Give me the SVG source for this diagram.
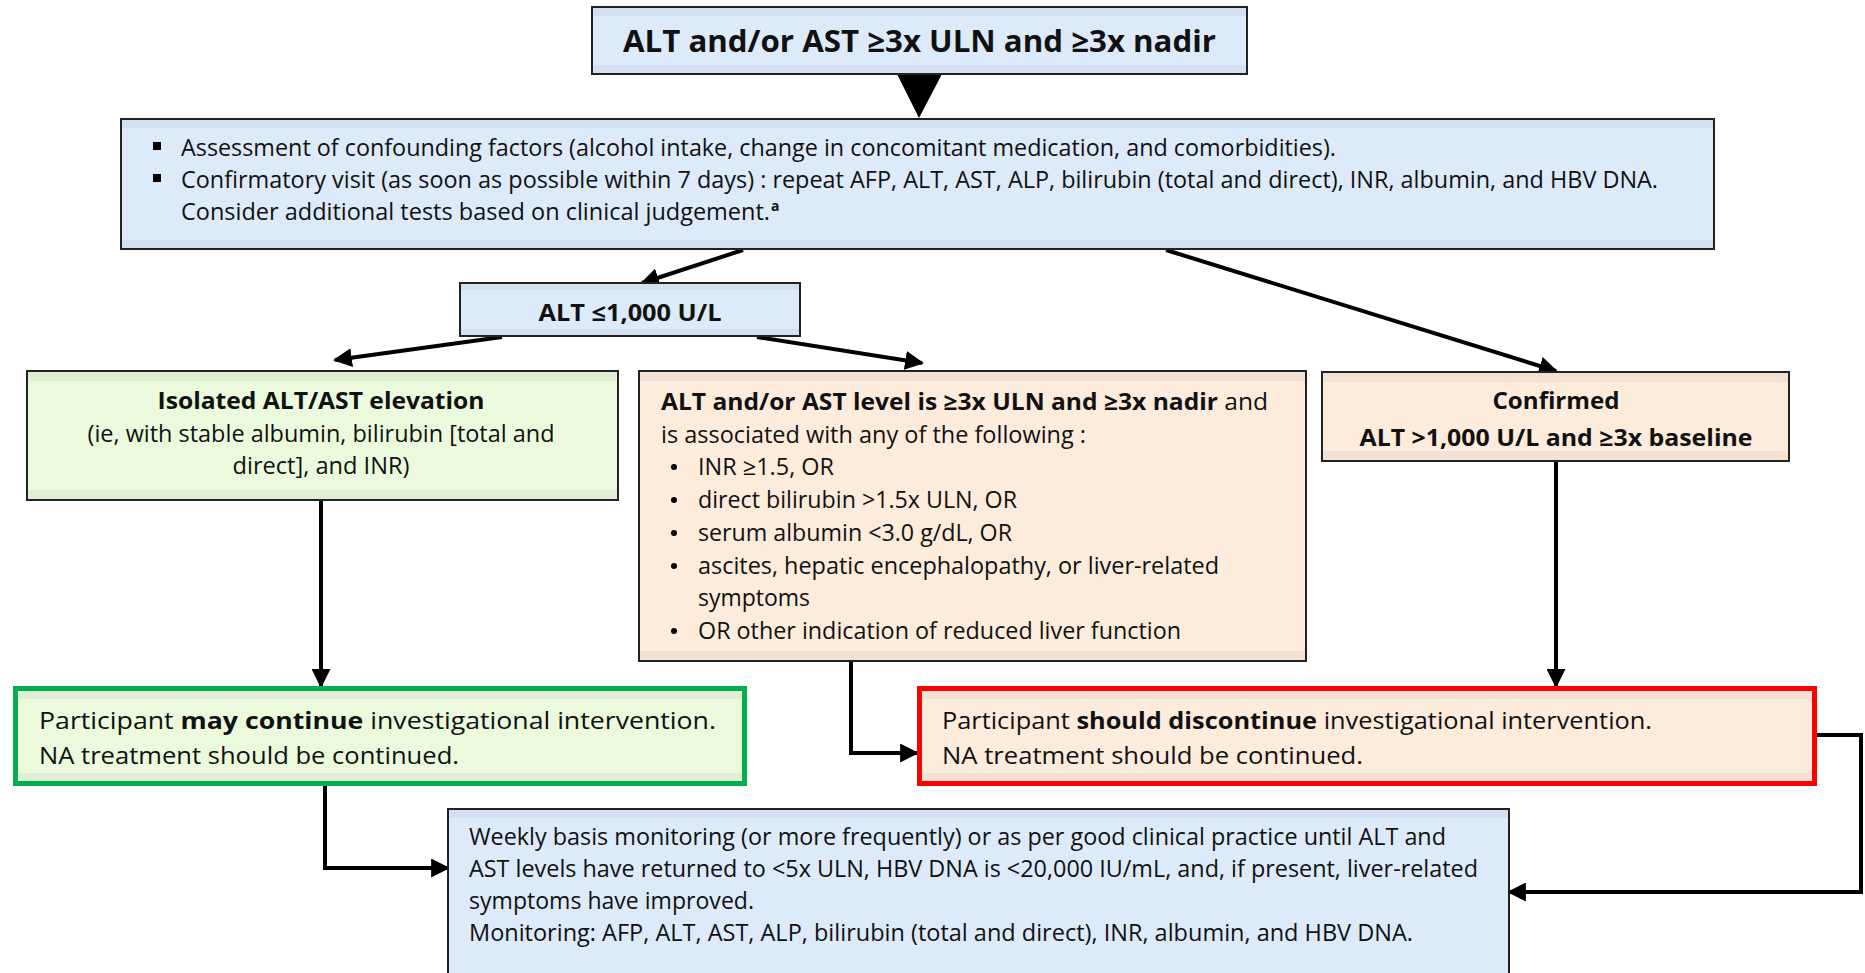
<svg xmlns="http://www.w3.org/2000/svg" width="1865" height="973" viewBox="0 0 1865 973">
<style>
text{font-family:"Open Sans","Liberation Sans",sans-serif;fill:#111;}
.t{font-size:23px;}
.b{font-weight:bold;}
.ttl{font-size:30px;font-weight:bold;}
.box{stroke:#222;stroke-width:2;}
.blue{fill:#dceafa;}
.blueband{fill:#d2e0f0;}
.green{fill:#ebfadc;}
.greenband{fill:#e0eed5;}
.peach{fill:#fdebdc;}
.peachband{fill:#f3e1d3;}
.gb{stroke:#00b050;stroke-width:5;}
.rb{stroke:#ff0000;stroke-width:5;}
.conn{fill:none;stroke:#000;stroke-width:4;}
</style>
<defs>
<marker id="ah" viewBox="0 0 18 18" refX="16" refY="9" markerWidth="19" markerHeight="19" markerUnits="userSpaceOnUse" orient="auto">
<path d="M0,0 L18,9 L0,18 z" fill="#000"/>
</marker>
</defs>
<rect width="1865" height="973" fill="#fff"/>

<g id="connectors">
<polygon points="897,74 942,74 919,118" fill="#000"/>
<line class="conn" x1="743" y1="250" x2="642" y2="283" marker-end="url(#ah)"/>
<line class="conn" x1="1166" y1="250" x2="1556" y2="371" marker-end="url(#ah)"/>
<line class="conn" x1="502" y1="337" x2="335" y2="360" marker-end="url(#ah)"/>
<line class="conn" x1="757" y1="337" x2="922" y2="363" marker-end="url(#ah)"/>
<line class="conn" x1="321" y1="500" x2="321" y2="686" marker-end="url(#ah)"/>
<line class="conn" x1="1556" y1="461" x2="1556" y2="686" marker-end="url(#ah)"/>
<polyline class="conn" points="851,661 851,753 917,753" marker-end="url(#ah)"/>
<polyline class="conn" points="325,785 325,868 448,868" marker-end="url(#ah)"/>
<polyline class="conn" points="1816,735 1861,735 1861,892 1509,892" marker-end="url(#ah)"/>
</g>

<g id="n-top">
<rect class="box blue" x="592" y="7" width="655" height="67"/>
<rect class="blueband" x="593" y="8" width="653" height="8"/>
<rect class="blueband" x="593" y="65" width="653" height="8"/>
<text class="ttl" x="919.5" y="52" text-anchor="middle" textLength="593" lengthAdjust="spacingAndGlyphs">ALT and/or AST ≥3x ULN and ≥3x nadir</text>
</g>

<g id="n-assess">
<rect class="box blue" x="121" y="119" width="1593" height="130"/>
<rect class="blueband" x="122" y="120" width="1591" height="8"/>
<rect class="blueband" x="122" y="240" width="1591" height="8"/>
<rect x="153" y="142" width="8" height="8" fill="#000"/>
<rect x="153" y="174" width="8" height="8" fill="#000"/>
<text class="t" x="181" y="156" textLength="1155" lengthAdjust="spacingAndGlyphs">Assessment of confounding factors (alcohol intake, change in concomitant medication, and comorbidities).</text>
<text class="t" x="181" y="188" textLength="1477" lengthAdjust="spacingAndGlyphs">Confirmatory visit (as soon as possible within 7 days) : repeat AFP, ALT, AST, ALP, bilirubin (total and direct), INR, albumin, and HBV DNA.</text>
<text class="t" x="181" y="220" textLength="589" lengthAdjust="spacingAndGlyphs">Consider additional tests based on clinical judgement.</text>
<text x="771" y="211" style="font-size:14px;font-weight:bold">a</text>
</g>

<g id="n-alt1000">
<rect class="box blue" x="460" y="283" width="340" height="53"/>
<rect class="blueband" x="461" y="284" width="338" height="6"/>
<rect class="blueband" x="461" y="329" width="338" height="6"/>
<text class="t b" x="630" y="321" text-anchor="middle" textLength="183" lengthAdjust="spacingAndGlyphs">ALT ≤1,000 U/L</text>
</g>

<g id="n-isolated">
<rect class="box green" x="27" y="371" width="591" height="129"/>
<rect class="greenband" x="28" y="372" width="589" height="9"/>
<rect class="greenband" x="28" y="490" width="589" height="9"/>
<text class="t b" x="321" y="409" text-anchor="middle" textLength="327" lengthAdjust="spacingAndGlyphs">Isolated ALT/AST elevation</text>
<text class="t" x="321" y="442" text-anchor="middle" textLength="467" lengthAdjust="spacingAndGlyphs">(ie, with stable albumin, bilirubin [total and</text>
<text class="t" x="321" y="474" text-anchor="middle" textLength="177" lengthAdjust="spacingAndGlyphs">direct], and INR)</text>
</g>

<g id="n-assoc">
<rect class="box peach" x="639" y="371" width="667" height="290"/>
<rect class="peachband" x="640" y="372" width="665" height="9"/>
<rect class="peachband" x="640" y="651" width="665" height="9"/>
<text class="t" x="661" y="410" textLength="607" lengthAdjust="spacingAndGlyphs"><tspan class="b">ALT and/or AST level is ≥3x ULN and ≥3x nadir</tspan> and</text>
<text class="t" x="661" y="443" textLength="425" lengthAdjust="spacingAndGlyphs">is associated with any of the following :</text>
<circle cx="674" cy="467" r="3"/>
<circle cx="674" cy="500" r="3"/>
<circle cx="674" cy="533" r="3"/>
<circle cx="674" cy="566" r="3"/>
<circle cx="674" cy="631" r="3"/>
<text class="t" x="698" y="475" textLength="136" lengthAdjust="spacingAndGlyphs">INR ≥1.5, OR</text>
<text class="t" x="698" y="508" textLength="319" lengthAdjust="spacingAndGlyphs">direct bilirubin &gt;1.5x ULN, OR</text>
<text class="t" x="698" y="541" textLength="314" lengthAdjust="spacingAndGlyphs">serum albumin &lt;3.0 g/dL, OR</text>
<text class="t" x="698" y="574" textLength="521" lengthAdjust="spacingAndGlyphs">ascites, hepatic encephalopathy, or liver-related</text>
<text class="t" x="698" y="606" textLength="112" lengthAdjust="spacingAndGlyphs">symptoms</text>
<text class="t" x="698" y="639" textLength="483" lengthAdjust="spacingAndGlyphs">OR other indication of reduced liver function</text>
</g>

<g id="n-confirmed">
<rect class="box peach" x="1322" y="372" width="467" height="89"/>
<rect class="peachband" x="1323" y="373" width="465" height="9"/>
<rect class="peachband" x="1323" y="451" width="465" height="9"/>
<text class="t b" x="1556" y="409" text-anchor="middle" textLength="127" lengthAdjust="spacingAndGlyphs">Confirmed</text>
<text class="t b" x="1556" y="446" text-anchor="middle" textLength="393" lengthAdjust="spacingAndGlyphs">ALT &gt;1,000 U/L and ≥3x baseline</text>
</g>

<g id="n-continue">
<rect class="gb green" x="15.5" y="688.5" width="729" height="95"/>
<rect class="greenband" x="18" y="691" width="724" height="8"/>
<rect class="greenband" x="18" y="773" width="724" height="8"/>
<text class="t" x="39" y="729" textLength="677" lengthAdjust="spacingAndGlyphs">Participant <tspan class="b">may continue</tspan> investigational intervention.</text>
<text class="t" x="39" y="764" textLength="420" lengthAdjust="spacingAndGlyphs">NA treatment should be continued.</text>
</g>

<g id="n-discontinue">
<rect class="rb peach" x="919.5" y="688.5" width="895" height="95"/>
<rect class="peachband" x="922" y="691" width="890" height="8"/>
<rect class="peachband" x="922" y="773" width="890" height="8"/>
<text class="t" x="942" y="729" textLength="710" lengthAdjust="spacingAndGlyphs">Participant <tspan class="b">should discontinue</tspan> investigational intervention.</text>
<text class="t" x="942" y="764" textLength="421" lengthAdjust="spacingAndGlyphs">NA treatment should be continued.</text>
</g>

<g id="n-monitor">
<rect class="box blue" x="448" y="809" width="1061" height="180"/>
<rect class="blueband" x="449" y="810" width="1059" height="8"/>
<text class="t" x="469" y="845" textLength="977" lengthAdjust="spacingAndGlyphs">Weekly basis monitoring (or more frequently) or as per good clinical practice until ALT and</text>
<text class="t" x="469" y="877" textLength="1009" lengthAdjust="spacingAndGlyphs">AST levels have returned to &lt;5x ULN, HBV DNA is &lt;20,000 IU/mL, and, if present, liver-related</text>
<text class="t" x="469" y="909" textLength="285" lengthAdjust="spacingAndGlyphs">symptoms have improved.</text>
<text class="t" x="469" y="941" textLength="944" lengthAdjust="spacingAndGlyphs">Monitoring: AFP, ALT, AST, ALP, bilirubin (total and direct), INR, albumin, and HBV DNA.</text>
</g>
</svg>
